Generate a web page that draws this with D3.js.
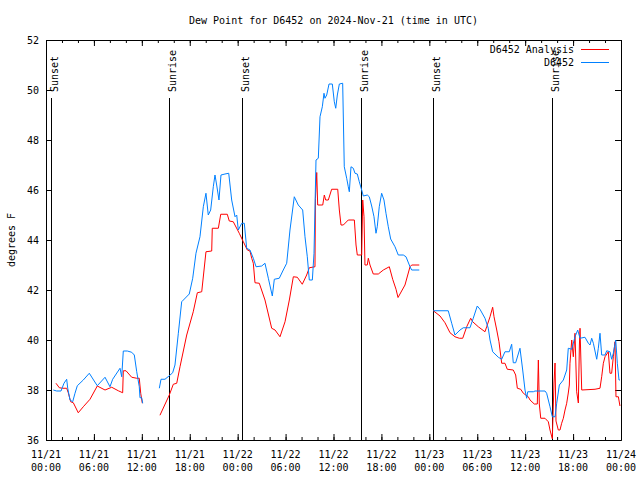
<!DOCTYPE html>
<html><head><meta charset="utf-8">
<script src="https://cdn.jsdelivr.net/npm/d3@7"></script>
<style>body{margin:0;background:#fff}svg{display:block}</style>
</head><body>
<svg id="c" width="640" height="480"></svg>
<script>
const titleText = "Dew Point for D6452 on 2024-Nov-21 (time in UTC)";
const yLabelText = "degrees F";
const seriesNames = ["D6452 Analysis", "D6452"];
const seriesColors = ["#ff0000", "#0080ff"];
const yTickValues = [36, 38, 40, 42, 44, 46, 48, 50, 52];
const startUTC = Date.UTC(2024, 10, 21, 0, 0);
const xMajorHours = [0, 6, 12, 18, 24, 30, 36, 42, 48, 54, 60, 66, 72];
const xMinorHours = d3.range(0, 73, 2);
const eventNames = ["Sunset", "Sunrise", "Sunset", "Sunrise", "Sunset", "Sunrise"];
const eventHours = [0.59, 15.44, 24.58, 39.48, 48.5, 63.4];

// D6452 Analysis (red): hours since 11/21 00:00 UTC, null = gap
const analysisHours = [1.25,1.67,2.09,2.59,2.79,3.09,3.42,4.04,4.67,5.51,6.42,7.39,8.23,9.05,9.6,9.68,10.02,10.73,11.36,11.68,11.86,12.06,13.0,
 14.27,15.44,15.94,16.37,16.78,17.62,18.44,18.95,19.5,20.03,20.75,20.82,21.58,21.88,22.7,22.95,23.45,24.2,24.71,25.21,25.54,25.76,25.96,26.17,26.71,27.42,28.26,28.68,29.3,29.93,30.47,30.97,31.47,32.09,32.64,32.97,33.68,33.74,33.9,34.02,34.65,34.85,35.02,35.35,35.77,36.53,36.73,36.94,37.23,37.85,38.61,38.82,38.98,39.53,39.66,39.82,39.94,40.23,40.36,40.57,40.98,41.61,42.24,42.99,43.41,43.83,44.08,44.95,45.58,45.79,46.74,47.5,
 48.5,49.34,49.96,50.59,51.21,51.75,52.18,52.68,53.18,53.43,54.13,54.97,55.18,55.6,55.93,56.1,56.44,56.72,57.06,57.47,57.76,58.51,58.81,59.02,59.44,59.77,60.39,60.61,61.14,61.52,61.65,61.77,61.95,62.48,62.9,63.11,63.4,63.61,63.74,63.86,64.15,64.36,64.57,64.78,64.99,65.2,65.4,65.53,65.61,65.83,66.03,66.24,66.45,66.66,66.79,66.87,67.08,68.75,69.37,69.58,69.79,70.0,70.41,70.62,70.83,71.04,71.25,71.37,71.67,71.87];
const analysisValues = [38.27,38.09,38.07,38.07,37.89,37.53,37.49,37.09,37.33,37.63,38.16,38.0,38.11,37.97,37.89,38.77,38.77,38.51,38.47,38.47,37.87,37.47,null,
 36.99,37.8,38.23,38.27,38.93,40.2,41.13,41.89,41.93,43.53,43.56,44.47,44.47,45.03,45.03,44.76,44.73,44.27,43.93,43.6,43.56,43.27,43.07,42.29,42.27,41.6,40.47,40.4,40.13,40.73,41.6,42.53,42.51,42.23,42.6,42.89,42.93,45.67,46.7,45.4,45.4,45.8,45.6,45.6,46.03,46.03,45.2,44.6,44.6,44.8,44.8,43.8,43.4,43.4,45.6,44.93,43.0,43.0,43.27,43.0,42.64,42.64,42.8,42.93,42.43,42.03,41.7,42.2,42.93,43.0,43.0,null,
 41.17,40.96,40.69,40.29,40.13,40.07,40.07,40.53,40.87,40.73,40.53,40.33,40.53,40.93,41.31,40.93,40.4,39.93,39.07,39.07,38.83,38.8,38.6,38.07,38.03,37.87,37.73,37.6,37.44,37.44,39.2,37.44,36.87,36.87,36.73,36.4,36.05,38.28,39.08,36.76,36.4,36.4,36.67,36.87,37.2,37.47,37.88,38.2,39.07,40.0,39.33,40.27,37.93,37.48,39.8,40.47,38.0,38.03,38.07,38.53,39.07,39.33,39.53,38.67,38.67,39.33,39.93,37.73,37.73,37.36];

// D6452 observations (blue)
const obsHours = [0.91,1.34,1.88,2.25,2.59,2.72,3.01,3.34,3.63,3.92,4.67,5.42,6.42,7.39,8.01,8.35,9.27,9.48,9.68,10.18,10.73,11.06,11.36,11.68,11.77,11.98,12.11,13.0,
 14.19,14.4,14.9,15.4,15.86,16.15,16.57,16.99,17.94,18.37,18.78,19.28,19.7,20.03,20.32,20.62,20.95,21.16,21.37,21.66,21.91,22.41,22.88,23.25,23.67,23.88,24.08,24.51,24.83,25.13,25.54,25.96,26.3,27.01,27.42,27.84,28.34,28.59,29.21,29.71,30.14,30.55,31.09,31.59,32.14,32.43,32.72,32.97,33.35,33.56,33.81,34.1,34.31,34.6,34.81,34.93,35.15,35.44,35.85,36.1,36.28,36.48,36.73,37.15,37.35,37.65,37.85,37.98,38.19,38.48,38.69,38.98,39.23,39.53,39.73,40.23,40.48,40.78,41.07,41.32,41.48,41.73,42.03,42.32,42.57,42.86,43.16,43.7,44.11,44.74,45.08,45.58,45.79,46.74,47.5,
 48.5,50.37,50.8,51.21,51.84,52.25,53.09,53.5,54.0,54.34,54.97,55.38,55.6,55.93,56.64,57.06,57.47,58.01,58.31,58.51,58.81,59.35,59.69,59.98,60.19,60.32,61.02,61.23,62.48,62.69,63.11,63.4,63.74,63.95,64.28,64.78,65.2,65.4,65.83,66.24,66.58,66.87,67.49,67.91,68.12,68.33,68.54,68.96,69.16,69.37,69.58,70.0,70.21,70.62,70.83,71.04,71.34,71.54,71.75,71.87];
const obsValues = [38.0,37.96,37.96,38.27,38.43,38.07,37.6,37.53,37.87,38.17,38.4,38.67,38.17,38.51,38.13,38.43,38.87,38.53,39.56,39.56,39.51,39.4,38.73,38.13,37.69,37.69,37.47,null,
 38.07,38.43,38.43,38.56,38.69,39.0,40.27,41.53,41.84,42.47,43.47,44.13,45.33,45.87,45.0,45.2,46.13,46.6,46.2,45.6,46.6,46.64,46.67,45.6,44.93,45.0,44.4,44.67,44.67,43.67,43.6,43.27,42.93,42.96,43.07,42.47,41.76,42.43,42.47,42.8,43.07,44.4,45.73,45.4,45.2,44.13,43.33,42.4,42.4,43.47,47.2,47.27,48.93,49.33,49.87,49.67,49.8,50.24,50.24,49.53,49.27,49.8,50.24,50.27,46.93,46.47,46.13,45.93,46.93,46.87,46.67,46.64,46.33,46.0,45.76,45.8,45.73,45.36,44.93,44.27,44.53,45.33,45.87,45.6,45.07,44.53,44.04,43.73,43.4,43.4,43.33,42.93,42.8,42.8,null,
 41.17,41.17,40.67,40.2,40.4,40.49,40.49,40.87,41.36,41.23,40.87,40.47,40.0,39.53,39.31,39.23,39.53,39.53,39.83,39.09,39.09,39.67,38.8,38.0,37.67,37.93,37.93,37.96,37.96,37.87,37.33,36.93,36.93,37.47,38.2,38.4,38.8,39.67,39.63,40.13,40.4,40.07,40.11,39.87,39.8,40.07,39.87,39.23,39.67,40.27,39.4,39.4,39.57,39.53,39.23,39.47,40.0,39.07,38.4,38.4];

const font = "'DejaVu Sans Mono', 'Liberation Mono', monospace";
const toDate = h => new Date(startUTC + h * 3600e3);
const svg = d3.select("#c");
const L = 46, R = 621, T = 40, B = 440;
const x = d3.scaleUtc().domain([toDate(0), toDate(72)]).range([L, R]);
const y = d3.scaleLinear().domain([36, 52]).range([B, T]);

svg.append("rect").attr("width", 640).attr("height", 480).attr("fill", "#fff");

// title
svg.append("text").attr("x", (L + R) / 2).attr("y", 24).attr("text-anchor", "middle")
  .style("font", `10px ${font}`).text(titleText);

// y label
svg.append("text").attr("transform", `translate(15,${(T + B) / 2}) rotate(-90)`)
  .attr("text-anchor", "middle").style("font", `10px ${font}`).text(yLabelText);

// axes
function styleAxis(g) {
  g.selectAll("path,line").attr("stroke", "#000");
  g.selectAll("text").style("font", `10px ${font}`).attr("fill", "#000");
}
const majorDates = xMajorHours.map(toDate), minorDates = xMinorHours.map(toDate);
svg.append("g").attr("transform", `translate(0,${B})`)
  .call(d3.axisBottom(x).tickValues(minorDates).tickSize(-3).tickSizeOuter(0).tickFormat(""))
  .call(styleAxis);
svg.append("g").attr("transform", `translate(0,${B})`)
  .call(d3.axisBottom(x).tickValues(majorDates).tickSize(-6).tickSizeOuter(0).tickFormat(""))
  .call(styleAxis);
svg.append("g").attr("transform", `translate(0,${T})`)
  .call(d3.axisTop(x).tickValues(minorDates).tickSize(-3).tickSizeOuter(0).tickFormat(""))
  .call(styleAxis);
svg.append("g").attr("transform", `translate(0,${T})`)
  .call(d3.axisTop(x).tickValues(majorDates).tickSize(-6).tickSizeOuter(0).tickFormat(""))
  .call(styleAxis);
svg.append("g").attr("transform", `translate(${L},0)`)
  .call(d3.axisLeft(y).tickValues(yTickValues).tickSize(-6).tickSizeOuter(0).tickPadding(7).tickFormat(d3.format("d")))
  .call(styleAxis);
svg.append("g").attr("transform", `translate(${R},0)`)
  .call(d3.axisRight(y).tickValues(yTickValues).tickSize(-6).tickSizeOuter(0).tickFormat(""))
  .call(styleAxis);

// x tick labels (two lines)
const fmtDay = d3.utcFormat("%m/%d"), fmtTime = d3.utcFormat("%H:%M");
const xl = svg.append("g").style("font", `10px ${font}`).attr("text-anchor", "middle");
majorDates.forEach(d => {
  const t = xl.append("text").attr("x", x(d)).attr("y", 458);
  t.append("tspan").attr("x", x(d)).text(fmtDay(d));
  t.append("tspan").attr("x", x(d)).attr("dy", 13).text(fmtTime(d));
});

// sunrise/sunset markers
const ev = svg.append("g");
eventHours.forEach((h, i) => {
  const xp = Math.round(x(toDate(h))) + 0.5;
  ev.append("line").attr("x1", xp).attr("x2", xp).attr("y1", 98).attr("y2", B)
    .attr("stroke", "#000").attr("stroke-width", 1);
  ev.append("text").attr("transform", `translate(${xp + 6},92) rotate(-90)`)
    .style("font", `10px ${font}`).text(eventNames[i]);
});

// lines
const lineGen = d3.line().defined(d => d.v != null).x(d => x(d.t)).y(d => y(d.v));
const seriesData = [
  analysisHours.map((h, i) => ({ t: toDate(h), v: analysisValues[i] })),
  obsHours.map((h, i) => ({ t: toDate(h), v: obsValues[i] }))
];
seriesData.forEach((s, i) => {
  svg.append("path").datum(s).attr("d", lineGen).attr("fill", "none")
    .attr("stroke", seriesColors[i]).attr("stroke-width", 1).attr("stroke-linejoin", "miter");
});

// legend
seriesNames.forEach((n, i) => {
  const ly = 49 + i * 13;
  svg.append("text").attr("x", 574).attr("y", ly + 3.5).attr("text-anchor", "end")
    .style("font", `10px ${font}`).text(n);
  svg.append("line").attr("x1", 581).attr("x2", 609).attr("y1", ly + 0.5).attr("y2", ly + 0.5)
    .attr("stroke", seriesColors[i]).attr("stroke-width", 1);
});
</script>
</body></html>
